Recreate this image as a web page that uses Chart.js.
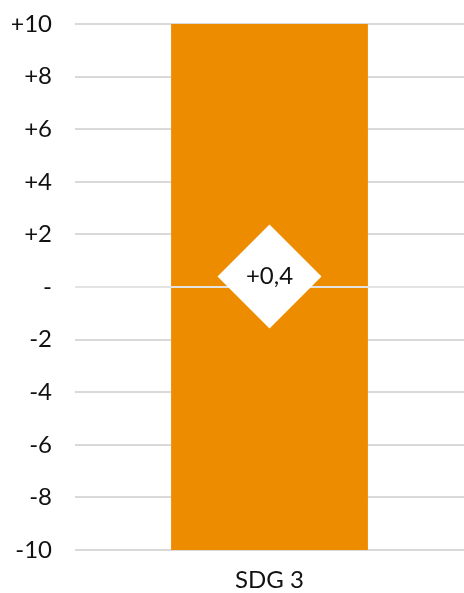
<!DOCTYPE html>
<html>
<head>
<meta charset="utf-8">
<script src="https://cdn.jsdelivr.net/npm/chart.js@4/dist/chart.umd.min.js"></script>
<style>
  html, body { margin: 0; padding: 0; background: #fff; overflow: hidden; }
  canvas { display: block; }
</style>
</head>
<body>
<canvas id="myChart" width="464" height="593"></canvas>
<script>
const categories = ['SDG 3'];
const rangeLow = [-10];
const rangeHigh = [10];
const pointValues = [0.4];
const yTicks = [-10, -8, -6, -4, -2, 0, 2, 4, 6, 8, 10];

const FONT = 'Lato, "Open Sans", sans-serif';

function fmt(v) {
    if (v === 0) return '-';
    const s = String(v).replace('.', ',');
    return v > 0 ? '+' + s : s;
}

// zero line drawn on top of the bar, below the diamond
const zeroLine = {
    id: 'zeroLine',
    afterDatasetDraw(chart, args) {
        if (args.index !== 0) return;
        const y = chart.scales.y.getPixelForValue(0);
        const { left, right } = chart.chartArea;
        const c = chart.ctx;
        c.save();
        c.strokeStyle = '#e3e3e3';
        c.lineWidth = 2;
        c.beginPath();
        c.moveTo(left, y);
        c.lineTo(right, y);
        c.stroke();
        c.restore();
    }
};

const pointLabel = {
    id: 'pointLabel',
    afterDatasetsDraw(chart) {
        const meta = chart.getDatasetMeta(1);
        const c = chart.ctx;
        c.save();
        c.fillStyle = '#111';
        c.font = '24px ' + FONT;
        c.textAlign = 'center';
        c.textBaseline = 'middle';
        meta.data.forEach((pt, i) => {
            c.fillText(fmt(pointValues[i]), pt.x, pt.y);
        });
        c.restore();
    }
};

const ctx = document.getElementById('myChart').getContext('2d');
const chart = new Chart(ctx, {
    data: {
        labels: categories,
        datasets: [{
            type: 'bar',
            data: categories.map((c, i) => [rangeLow[i], rangeHigh[i]]),
            backgroundColor: '#ee8c00',
            borderWidth: 0,
            barPercentage: 1,
            categoryPercentage: 0.506,
            order: 2
        }, {
            type: 'line',
            data: pointValues,
            showLine: false,
            clip: false,
            pointStyle: 'rectRot',
            pointRadius: 52,
            pointHoverRadius: 52,
            pointBackgroundColor: '#ffffff',
            pointBorderWidth: 0,
            order: 1
        }]
    },
    options: {
        responsive: false,
        animation: false,
        events: [],
        layout: { autoPadding: false, padding: { top: 24, right: 0, left: 12, bottom: 0 } },
        plugins: {
            legend: { display: false },
            tooltip: { enabled: false }
        },
        scales: {
            x: {
                grid: { display: false, drawTicks: false },
                border: { display: false },
                ticks: { color: '#111', font: { family: FONT, size: 24 }, padding: 16 },
                afterFit(axis) {
                    axis.height = 43;
                    axis.paddingLeft = 0;
                    axis.paddingRight = 0;
                }
            },
            y: {
                min: -10,
                max: 10,
                afterBuildTicks(axis) {
                    axis.ticks = yTicks.map(v => ({ value: v }));
                },
                afterFit(axis) {
                    axis.width = 63;
                    axis.paddingTop = 0;
                    axis.paddingBottom = 0;
                },
                grid: { color: '#d9d9d9', lineWidth: 2, drawTicks: false },
                border: { display: false },
                ticks: {
                    color: '#111',
                    font: { family: FONT, size: 24 },
                    padding: 23,
                    callback: v => fmt(v)
                }
            }
        }
    },
    plugins: [zeroLine, pointLabel]
});
</script>
</body>
</html>
